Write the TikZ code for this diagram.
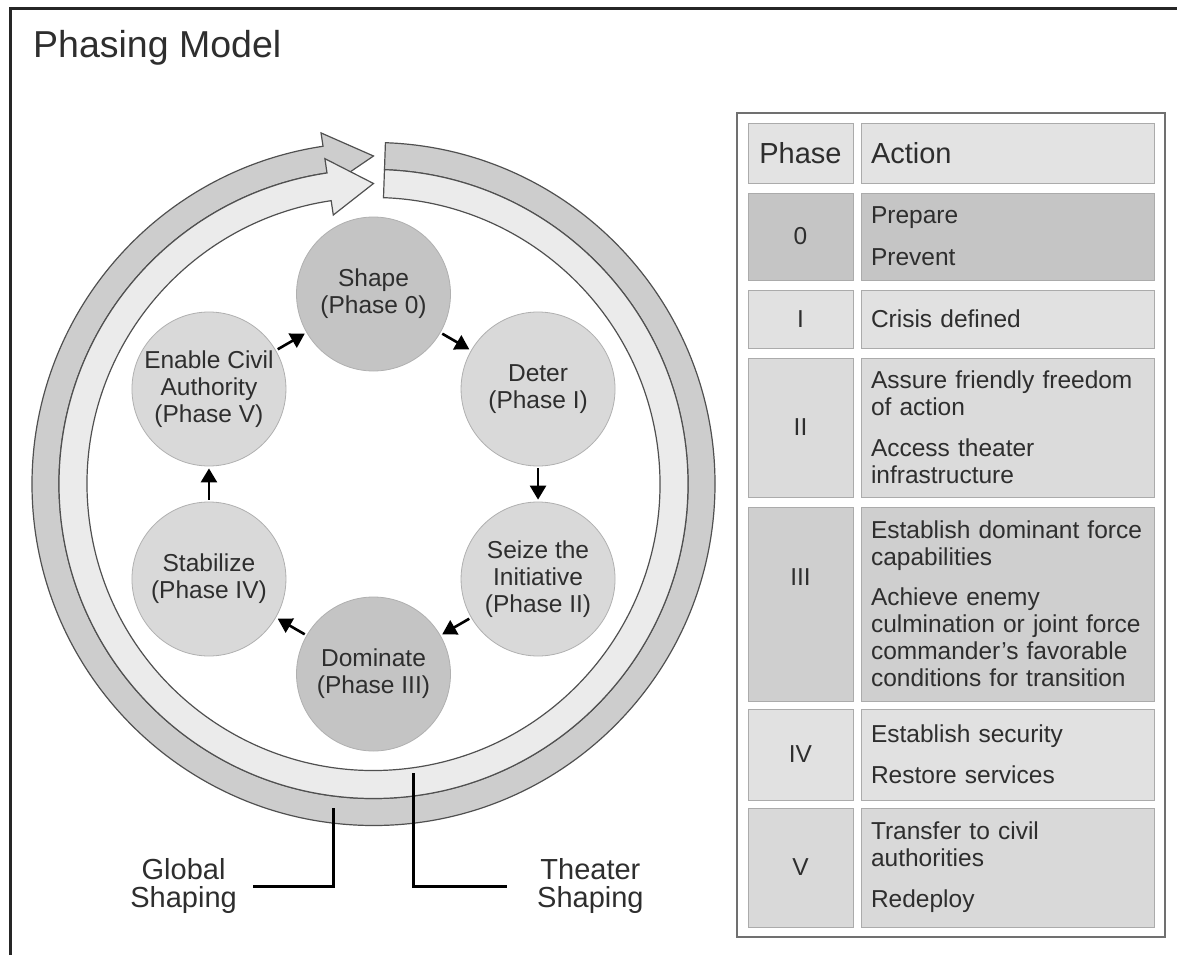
\documentclass[tikz,border=0pt]{standalone}
\usepackage{fontspec}
\setmainfont{Liberation Sans}
\usepackage{tikz}
\usetikzlibrary{shapes,backgrounds,positioning,arrows.meta}
\usepackage{xcolor}

\definecolor{ink}{HTML}{2E2E2E}
\definecolor{ringline}{HTML}{505050}
\definecolor{globalfill}{HTML}{CDCDCD}
\definecolor{theaterfill}{HTML}{EBEBEB}
\definecolor{phasedark}{HTML}{C4C4C4}
\definecolor{phaselight}{HTML}{D9D9D9}
\definecolor{phaseline}{HTML}{B0B0B0}
\definecolor{cellline}{HTML}{ABABAB}
\definecolor{tableline}{HTML}{707070}
\definecolor{rowhead}{HTML}{E3E3E3}
\definecolor{rowzero}{HTML}{C5C5C5}
\definecolor{rowone}{HTML}{E1E1E1}
\definecolor{rowtwo}{HTML}{DBDBDB}
\definecolor{rowthree}{HTML}{CFCFCF}
\definecolor{rowfour}{HTML}{E1E1E1}
\definecolor{rowfive}{HTML}{D9D9D9}

\begin{document}
\begin{tikzpicture}[x=1pt, y=1pt,
        phase/.style={circle, minimum size=154pt, inner sep=0pt, draw=phaseline, line width=0.8pt, align=center, text=ink, font=\fontsize{24.5}{27}\selectfont},
        flow/.style={-{Triangle[length=14pt, width=16pt]}, line width=2.6pt, draw=black, shorten <=2pt, shorten >=2pt},
        band/.style={draw=ringline, line width=1.2pt},
        leader/.style={line width=3pt, draw=black},
        shaping/.style={align=center, text=ink, font=\fontsize{29}{28}\selectfont},
        cell/.style={rectangle, draw=cellline, line width=1pt, text=ink, font=\fontsize{24.5}{27}\selectfont},
        phasecell/.style={cell, minimum width=105pt, inner sep=0pt},
        actcell/.style={cell, minimum width=293pt, text width=273pt, inner xsep=10pt, inner ysep=0pt, align=left},
        headfont/.style={font=\fontsize{29}{32}\selectfont}]
    \useasboundingbox (0,0) rectangle (1177,-955);

    % frame and title
    \draw[line width=3pt, draw=black!85] (10,-955) -- (10,-8.5) -- (1177,-8.5);
    \node[anchor=base west, inner sep=0pt, text=ink, font=\fontsize{37.5}{45}\selectfont] (title) at (33,-58) {Phasing Model};

    % shaping rings and phase cycle
    \begin{scope}[shift={(373.5,-484)}]
        \draw[band, fill=globalfill] (88:341.5pt) arc[start angle=88, end angle=-261.5, radius=341.5pt] -- (-261.5:355pt) -- (-270:328pt) -- (-261.5:301pt) -- (-261.5:314.5pt) arc[start angle=-261.5, end angle=88, radius=314.5pt] -- cycle;
        \draw[band, fill=theaterfill] (88:314.5pt) arc[start angle=88, end angle=-261.5, radius=314.5pt] -- (-261.5:329pt) -- (-270:300.5pt) -- (-261.5:272pt) -- (-261.5:286.5pt) arc[start angle=-261.5, end angle=88, radius=286.5pt] -- cycle;

        \node[phase, fill=phasedark] (shape) at (90:190pt) {Shape\\(Phase 0)};
        \node[phase, fill=phaselight] (deter) at (30:190pt) {Deter\\(Phase I)};
        \node[phase, fill=phaselight] (seize) at (-30:190pt) {Seize the\\Initiative\\(Phase II)};
        \node[phase, fill=phasedark] (dominate) at (-90:190pt) {Dominate\\(Phase III)};
        \node[phase, fill=phaselight] (stabilize) at (-150:190pt) {Stabilize\\(Phase IV)};
        \node[phase, fill=phaselight] (enable) at (150:190pt) {Enable Civil\\Authority\\(Phase V)};
    \end{scope}
    \draw[flow] (shape) -- (deter);
    \draw[flow] (deter) -- (seize);
    \draw[flow] (seize) -- (dominate);
    \draw[flow] (dominate) -- (stabilize);
    \draw[flow] (stabilize) -- (enable);
    \draw[flow] (enable) -- (shape);

    % ring labels
    \coordinate (globaltip) at (333,-808);
    \coordinate (theatertip) at (413,-773);
    \node[shaping, anchor=east, inner xsep=16pt] (global) at (253,-886) {Global\\Shaping};
    \node[shaping, anchor=west, inner xsep=30pt] (theater) at (507,-886) {Theater\\Shaping};
    \draw[leader] (globaltip) |- (global.east);
    \draw[leader] (theatertip) |- (theater.west);

    % phase table
    \draw[line width=2pt, draw=tableline] (737,-113) rectangle (1165,-937);
    \node[phasecell, minimum height=59pt, fill=rowhead, headfont] (phhead) at (800.5,-153.5) {Phase};
    \node[actcell, minimum height=59pt, fill=rowhead, headfont] (achead) at (1007.5,-153.5) {Action};
    \node[phasecell, minimum height=87pt, fill=rowzero] (ph0) at (800.5,-236.5) {0};
    \node[actcell, minimum height=87pt, fill=rowzero] (ac0) at (1007.5,-236.5) {Prepare\\[15pt]Prevent};
    \node[phasecell, minimum height=58pt, fill=rowone] (ph1) at (800.5,-319) {I};
    \node[actcell, minimum height=58pt, fill=rowone] (ac1) at (1007.5,-319) {Crisis defined};
    \node[phasecell, minimum height=139pt, fill=rowtwo] (ph2) at (800.5,-427.5) {II};
    \node[actcell, minimum height=139pt, fill=rowtwo] (ac2) at (1007.5,-427.5) {Assure friendly freedom\\of action\\[14pt]Access theater\\infrastructure};
    \node[phasecell, minimum height=194pt, fill=rowthree, text depth=54pt] (ph3) at (800.5,-604) {III};
    \node[actcell, minimum height=194pt, fill=rowthree] (ac3) at (1007.5,-604) {Establish dominant force\\capabilities\\[13pt]Achieve enemy\\culmination or joint force\\commander's favorable\\conditions for transition};
    \node[phasecell, minimum height=91pt, fill=rowfour] (ph4) at (800.5,-754.5) {IV};
    \node[actcell, minimum height=91pt, fill=rowfour] (ac4) at (1007.5,-754.5) {Establish security\\[14pt]Restore services};
    \node[phasecell, minimum height=119pt, fill=rowfive] (ph5) at (800.5,-867.5) {V};
    \node[actcell, minimum height=119pt, fill=rowfive] (ac5) at (1007.5,-867.5) {Transfer to civil\\authorities\\[14pt]Redeploy};
\end{tikzpicture}
\end{document}
